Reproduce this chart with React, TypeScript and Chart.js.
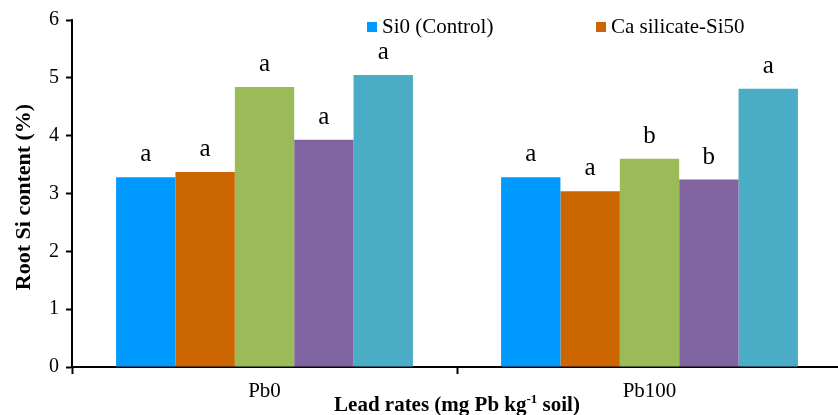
import React, { useEffect, useRef } from "react";
import { Chart, registerables } from "chart.js";

Chart.register(...registerables);

const categories = ["Pb0", "Pb100"];
const seriesNames = [
  "Si0 (Control)",
  "Ca silicate-Si50",
  "Series 3",
  "Series 4",
  "Series 5",
];
const si0Values = [3.28, 3.28];
const caSi50Values = [3.37, 3.04];
const series3Values = [4.84, 3.6];
const series4Values = [3.93, 3.24];
const series5Values = [5.05, 4.81];
const si0Letters = ["a", "a"];
const caSi50Letters = ["a", "a"];
const series3Letters = ["a", "b"];
const series4Letters = ["a", "b"];
const series5Letters = ["a", "a"];
const yMin = 0;
const yMax = 6;
const yStep = 1;
const yTitle = "Root Si content (%)";
const xTitleParts = ["Lead rates (mg Pb kg", "-1", " soil)"];
const legendShown = 2;

const colors = ["#0099FF", "#CC6600", "#9BBB59", "#8064A2", "#4BACC6"];
const serif = "'Liberation Serif', 'Times New Roman', serif";

export default function App() {
  const canvasRef = useRef<HTMLCanvasElement | null>(null);

  useEffect(() => {
    document.body.style.margin = "0";
    const canvas = canvasRef.current;
    if (!canvas) return;
    const values = [si0Values, caSi50Values, series3Values, series4Values, series5Values];
    const letters = [si0Letters, caSi50Letters, series3Letters, series4Letters, series5Letters];

    const overlay = {
      id: "overlay",
      afterDatasetsDraw(chart: any) {
        const ctx = chart.ctx;
        ctx.save();
        // significance letters
        ctx.fillStyle = "#000";
        ctx.font = `25px ${serif}`;
        ctx.textAlign = "center";
        ctx.textBaseline = "alphabetic";
        chart.data.datasets.forEach((ds: any, i: number) => {
          const meta = chart.getDatasetMeta(i);
          meta.data.forEach((el: any, j: number) => {
            ctx.fillText(letters[i][j], el.x, el.y - 16);
          });
        });
        // legend
        const legendX = [367, 596];
        ctx.font = `21px ${serif}`;
        ctx.textAlign = "left";
        ctx.textBaseline = "middle";
        for (let i = 0; i < legendShown; i++) {
          ctx.fillStyle = colors[i];
          ctx.fillRect(legendX[i], 22, 10, 10);
          ctx.fillStyle = "#000";
          ctx.fillText(seriesNames[i], legendX[i] + 15, 27);
        }
        // y title
        ctx.save();
        ctx.translate(24, 197);
        ctx.rotate(-Math.PI / 2);
        ctx.font = `bold 22px ${serif}`;
        ctx.textAlign = "center";
        ctx.textBaseline = "middle";
        ctx.fillText(yTitle, 0, 0);
        ctx.restore();
        // x title with superscript
        const big = `bold 21px ${serif}`;
        const small = `bold 13px ${serif}`;
        ctx.font = big;
        const w1 = ctx.measureText(xTitleParts[0]).width;
        const w3 = ctx.measureText(xTitleParts[2]).width;
        ctx.font = small;
        const w2 = ctx.measureText(xTitleParts[1]).width;
        const total = w1 + w2 + w3;
        const cx = (chart.chartArea.left + chart.chartArea.right) / 2;
        let x = cx - total / 2;
        const base = 411;
        ctx.textAlign = "left";
        ctx.textBaseline = "alphabetic";
        ctx.font = big;
        ctx.fillText(xTitleParts[0], x, base);
        x += w1;
        ctx.font = small;
        ctx.fillText(xTitleParts[1], x, base - 8);
        x += w2;
        ctx.font = big;
        ctx.fillText(xTitleParts[2], x, base);
        ctx.restore();
      },
    };

    const chart = new Chart(canvas, {
      type: "bar",
      data: {
        labels: categories,
        datasets: values.map((v, i) => ({
          label: seriesNames[i],
          data: v,
          backgroundColor: colors[i],
          borderWidth: 0,
          categoryPercentage: 0.771,
          barPercentage: 1,
        })),
      },
      options: {
        animation: false,
        responsive: false,
        maintainAspectRatio: false,
        layout: { padding: { top: 20, right: 4, left: 0, bottom: 0 } },
        plugins: {
          legend: { display: false },
          tooltip: { enabled: false },
          title: { display: false },
        },
        scales: {
          x: {
            offset: true,
            grid: {
              display: true,
              drawOnChartArea: false,
              drawTicks: true,
              tickLength: 7,
              tickColor: "#000",
              tickWidth: 2,
              offset: true,
            },
            border: { display: true, color: "#000", width: 2 },
            ticks: {
              color: "#000",
              font: { family: serif, size: 21 },
              padding: 5,
            },
            afterFit(scale: any) {
              scale.height = 48;
            },
          },
          y: {
            min: yMin,
            max: yMax,
            grid: {
              display: true,
              drawOnChartArea: false,
              drawTicks: true,
              tickLength: 6,
              tickColor: "#000",
              tickWidth: 2,
            },
            border: { display: true, color: "#000", width: 2 },
            ticks: {
              stepSize: yStep,
              color: "#000",
              font: { family: serif, size: 20 },
              padding: 7,
            },
            afterFit(scale: any) {
              scale.width = 72;
            },
          },
        },
      },
      plugins: [overlay],
    });
    return () => chart.destroy();
  }, []);

  return (
    <div style={{ position: "absolute", left: 0, top: 0, width: 838, height: 415, overflow: "hidden", background: "#fff" }}>
      <canvas ref={canvasRef} width={846} height={415} style={{ display: "block", width: 846, height: 415 }} />
    </div>
  );
}
